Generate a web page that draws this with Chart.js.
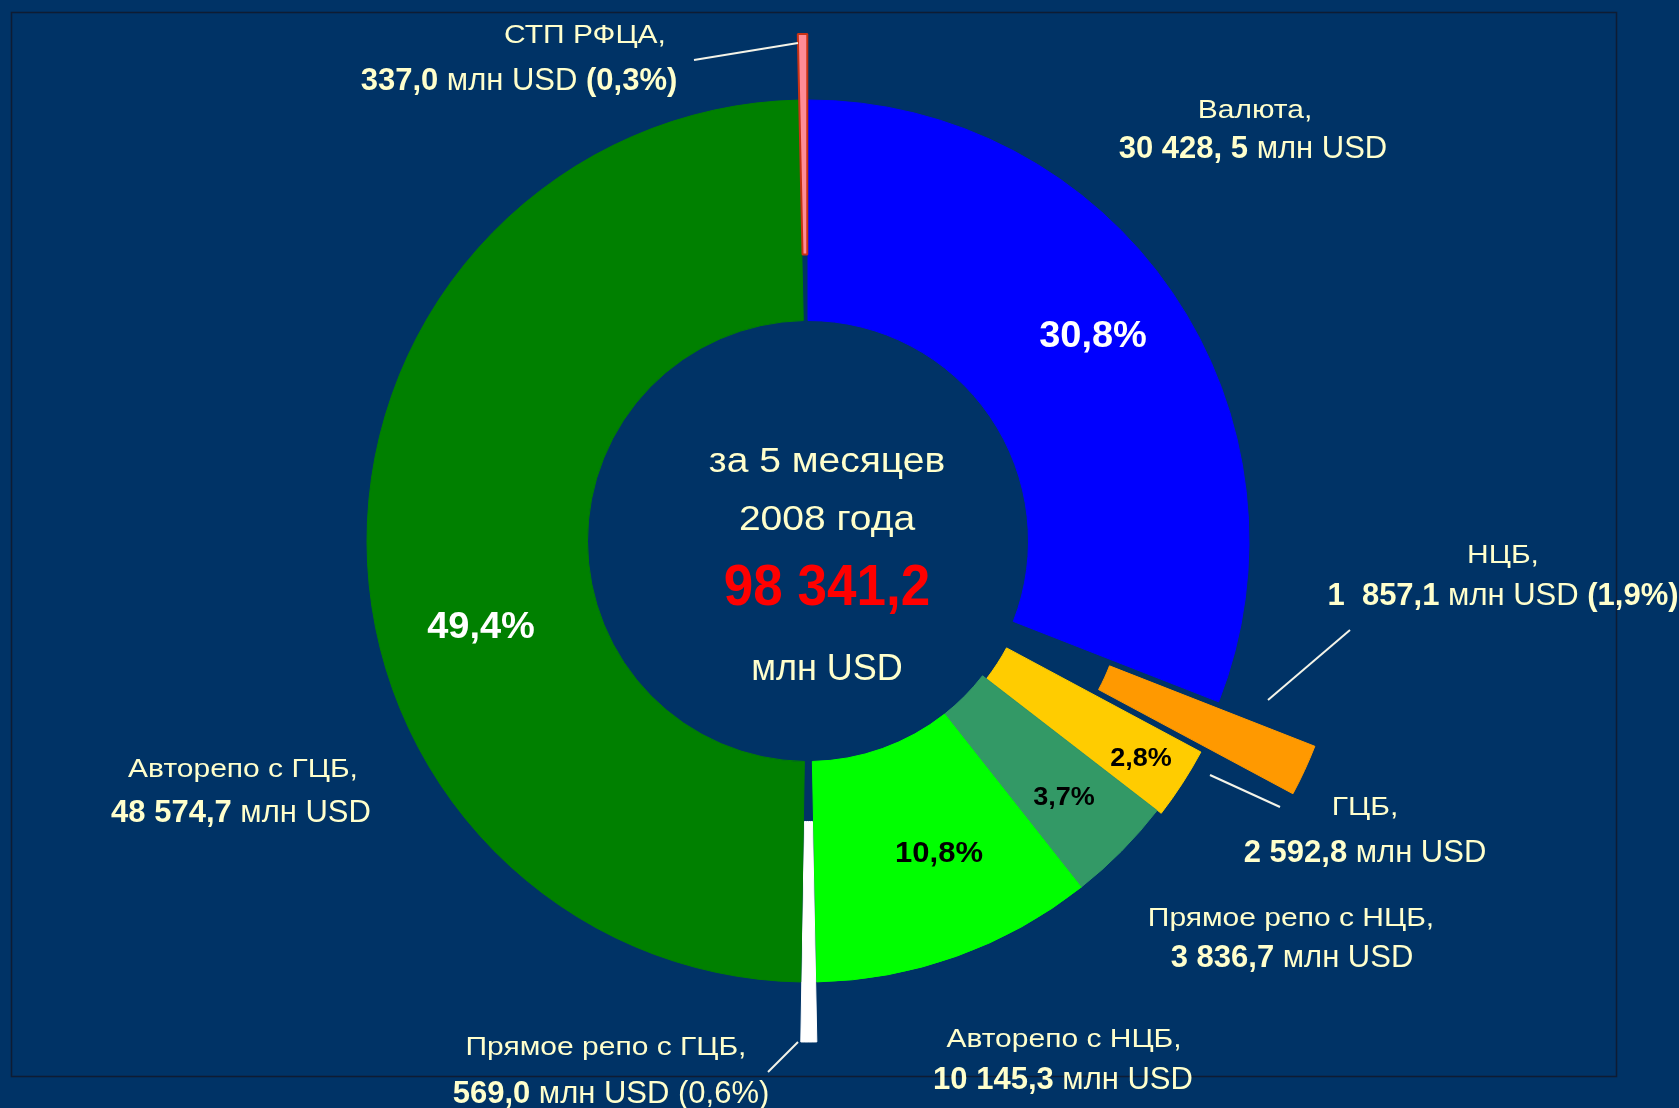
<!DOCTYPE html>
<html><head><meta charset="utf-8">
<script src="https://cdn.jsdelivr.net/npm/chart.js@4.4.1/dist/chart.umd.min.js"></script>
<style>
html,body{margin:0;padding:0;background:#003366;overflow:hidden}
#wrap{position:relative;width:1679px;height:1108px}
canvas{display:block}
</style></head><body>
<div id="wrap"><canvas id="c" width="1679" height="1108"></canvas></div>
<script>
// ---- data ----
const categories = ['Валюта', 'НЦБ', 'ГЦБ', 'Прямое репо с НЦБ', 'Авторепо с НЦБ', 'Прямое репо с ГЦБ', 'Авторепо с ГЦБ', 'СТП РФЦА'];
const values = [30428.5, 1857.1, 2592.8, 3836.7, 10145.3, 569.0, 48574.7, 337.0];
const shareTexts = ['30,8%', '1,9%', '2,8%', '3,7%', '10,8%', '0,6%', '49,4%', '0,3%'];
const amountTexts = ['30 428, 5', '1  857,1', '2 592,8', '3 836,7', '10 145,3', '569,0', '48 574,7', '337,0'];
const unitText = 'млн USD';
const totalText = '98 341,2';
const centerLines = ['за 5 месяцев', '2008 года'];

// ---- styles ----
const colors = ['#0000FF', '#FF9900', '#FFCC00', '#339966', '#00FF00', '#FFFFFF', '#008000', '#FF8C96'];
const borders = ['#0000FF', '#FF9900', '#FFCC00', '#339966', '#00FF00', '#FFFFFF', '#008000', '#C83214'];
const borderW = [1, 1, 1, 1, 1, 1, 1, 2];
// pull-out distance of exploded slices (px)
const explode = [0, 106, 5, 0, 0, 60, 0, 66];

const FAM = "'Liberation Sans', Arial, sans-serif";
const CREAM = '#FFFFCC';

function drawRuns(ctx, runs, x, y, size, color, sy, align) {
  ctx.save();
  ctx.fillStyle = color;
  ctx.textBaseline = 'alphabetic';
  ctx.textAlign = 'left';
  let w = 0;
  const widths = runs.map(([t, b]) => {
    ctx.font = (b ? 'bold ' : '') + size + 'px ' + FAM;
    const m = ctx.measureText(t).width; w += m; return m;
  });
  let sx = align === 'left' ? x : align === 'right' ? x - w : x - w / 2;
  ctx.translate(0, y);
  ctx.scale(1, sy);
  runs.forEach(([t, b], i) => {
    ctx.font = (b ? 'bold ' : '') + size + 'px ' + FAM;
    ctx.fillText(t, sx, 0);
    sx += widths[i];
  });
  ctx.restore();
}

// label layout: [line1 x, line1 y, line2 x, line2 y]
const labelPos = [
  [1255, 118, 1253, 158],
  [1503, 563, 1503, 605],
  [1365, 815, 1365, 862],
  [1291, 926, 1292, 967],
  [1064, 1047, 1063, 1089],
  [606, 1055, 611, 1103],
  [243, 777, 241, 822],
  [585, 43, 519, 90]
];
const withShare = [false, true, false, false, false, true, false, true];
const shareBold = [false, true, false, false, false, false, false, true];
// percent labels inside: [index, cx, cy, size, color]
const inside = [
  [0, 1093, 334, 38, '#FFFFFF'],
  [6, 481, 625, 38, '#FFFFFF'],
  [4, 939, 851, 31, '#000000'],
  [3, 1064, 796, 27, '#000000'],
  [2, 1141, 757, 27, '#000000']
];
const leaders = [
  [694, 60, 798, 43],
  [1268, 700, 1350, 630],
  [1210, 775, 1280, 807],
  [798, 1042, 768, 1072]
];

const deco = {
  id: 'deco',
  afterDatasetsUpdate(chart) {
    const meta = chart.getDatasetMeta(0);
    meta.data.forEach((arc, i) => {
      const d = explode[i];
      if (!d) return;
      const mid = (arc.startAngle + arc.endAngle) / 2;
      arc.x += Math.cos(mid) * d;
      arc.y += Math.sin(mid) * d;
    });
  },
  beforeDraw(chart) {
    const ctx = chart.ctx;
    ctx.save();
    ctx.fillStyle = '#003366';
    ctx.fillRect(0, 0, chart.width, chart.height);
    ctx.strokeStyle = 'rgba(15,25,45,0.9)';
    ctx.lineWidth = 1.5;
    ctx.strokeRect(11.5, 12.5, 1605, 1064);
    ctx.restore();
  },
  afterDraw(chart) {
    const ctx = chart.ctx;
    ctx.save();
    ctx.strokeStyle = '#F4F4E8';
    ctx.lineWidth = 2;
    leaders.forEach(([x1, y1, x2, y2]) => {
      ctx.beginPath(); ctx.moveTo(x1, y1); ctx.lineTo(x2, y2); ctx.stroke();
    });
    ctx.restore();
    categories.forEach((name, i) => {
      const [x1, y1, x2, y2] = labelPos[i];
      drawRuns(ctx, [[name + ',', false]], x1, y1, 30, CREAM, 0.88, 'center');
      const runs = [[amountTexts[i], true], [' ' + unitText, false]];
      if (withShare[i]) runs.push([' (' + shareTexts[i] + ')', shareBold[i]]);
      drawRuns(ctx, runs, x2, y2, 31, CREAM, 1, 'center');
    });
    inside.forEach(([i, cx, cy, size, col]) => {
      drawRuns(ctx, [[shareTexts[i], true]], cx, cy + size * 0.36 * 0.95, size, col, 0.95, 'center');
    });
    drawRuns(ctx, [[centerLines[0], false]], 827, 472, 39, CREAM, 0.88, 'center');
    drawRuns(ctx, [[centerLines[1], false]], 827, 530, 39, CREAM, 0.88, 'center');
    drawRuns(ctx, [[totalText, true]], 827, 605, 53, '#FF0000', 1.1, 'center');
    drawRuns(ctx, [[unitText, false]], 827, 680, 36, CREAM, 1, 'center');
  }
};

new Chart(document.getElementById('c'), {
  type: 'doughnut',
  data: {
    labels: categories,
    datasets: [{
      data: values,
      backgroundColor: colors,
      borderColor: borders,
      borderWidth: borderW,
      hoverOffset: 0
    }]
  },
  options: {
    responsive: false,
    animation: false,
    events: [],
    radius: 441,
    cutout: '50%',
    rotation: 0,
    layout: { padding: { left: 0, right: 63, top: 0, bottom: 26 } },
    plugins: { legend: { display: false }, tooltip: { enabled: false }, title: { display: false } }
  },
  plugins: [deco]
});
</script>
</body></html>
